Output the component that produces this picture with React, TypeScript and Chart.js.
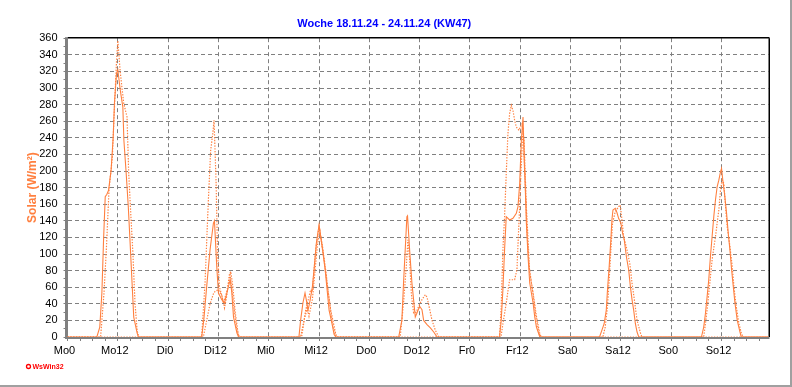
import React, { useEffect, useRef } from "react";
import { Chart, registerables } from "chart.js";

Chart.register(...registerables);

type P = [number, number];

const titleText = "Woche 18.11.24 - 24.11.24 (KW47)";
const yTitle = "Solar (W/m²)";
const dayNames = ["Mo", "Di", "Mi", "Do", "Fr", "Sa", "So"];
const xMaxHours = 167.2;
const yMax = 360;

// solid series: [hour of day, W/m²]
const solidMo: P[] = [[7.0,0],[7.7,12],[8.2,53],[8.6,117],[9.0,169],[9.4,172],[9.8,177],[10.4,201],[10.9,241],[11.2,282],[11.7,318],[12.0,322],[12.6,297],[13.2,277],[13.45,237],[14.0,197],[14.5,157],[14.9,117],[15.4,65],[15.8,24],[16.6,5],[16.9,0]];
const solidDi: P[] = [[8.0,0],[8.5,20],[9.2,61],[10.0,105],[10.8,137],[11.05,140],[11.6,85],[12.0,53],[12.8,45],[13.45,41],[14.0,53],[14.8,69],[15.2,53],[15.6,24],[16.4,5],[16.8,0]];
const solidMi: P[] = [[7.2,0],[7.6,20],[8.15,41],[8.65,53],[8.95,45],[9.35,32],[9.75,41],[10.4,60],[10.8,81],[11.35,113],[12.0,135],[12.4,121],[12.95,101],[13.45,81],[14.0,53],[14.4,32],[15.05,17],[15.6,3],[16.0,0]];
const solidDo: P[] = [[7.0,0],[7.75,20],[8.15,65],[8.55,105],[8.95,145],[9.1,146],[9.6,105],[10.15,65],[10.55,45],[10.95,24],[11.35,29],[12.0,37],[12.55,33],[12.95,20],[13.75,15],[14.55,11],[15.35,6],[16.15,0]];
const solidFr: P[] = [[7.05,0],[7.45,20],[7.85,57],[8.25,105],[8.65,145],[9.45,141],[10.25,143],[11.05,149],[11.45,157],[11.85,185],[12.25,237],[12.65,265],[12.9,217],[13.2,177],[13.45,137],[13.85,97],[14.25,65],[15.05,41],[15.45,24],[15.85,12],[16.65,0]];
const solidSa: P[] = [[6.9,0],[7.45,8],[8.0,16],[8.5,32],[8.8,57],[9.2,85],[9.6,117],[9.85,141],[10.1,153],[10.65,155],[11.05,150],[11.45,143],[12.0,137],[12.4,125],[12.8,117],[13.3,97],[13.85,81],[14.25,61],[14.65,45],[15.05,32],[15.45,16],[15.85,6],[16.25,0]];
const solidSo: P[] = [[7.2,0],[7.75,12],[8.15,28],[8.55,48],[8.95,69],[9.35,97],[9.75,121],[10.15,145],[10.55,165],[10.95,181],[11.35,189],[11.75,199],[12.0,203],[12.3,189],[12.7,173],[13.2,149],[13.6,125],[14.0,105],[14.4,81],[14.8,61],[15.2,41],[15.75,20],[16.4,6],[16.7,0]];

// dotted series A
const dotMo: P[] = [[7.9,0],[8.7,53],[9.3,109],[9.9,177],[10.7,217],[11.1,265],[11.7,333],[12.0,357],[12.6,318],[13.4,282],[14.2,265],[14.6,197],[15.0,157],[15.6,101],[16.1,41],[16.6,8],[17.0,0]];
const dotDi: P[] = [[8.0,0],[8.8,65],[9.6,165],[10.15,225],[10.65,245],[10.95,261],[11.45,185],[11.8,100],[12.25,60],[12.8,50],[13.45,35],[14.0,50],[14.6,75],[14.95,79],[15.45,60],[16.0,30],[16.8,0]];
const dotMi: P[] = [[7.85,0],[8.8,32],[10.0,57],[10.4,55],[11.2,105],[12.0,133],[13.2,93],[14.0,61],[14.8,32],[16.0,3],[16.4,0]];
const dotDo: P[] = [[7.35,0],[8.15,41],[8.8,85],[9.2,117],[9.6,93],[10.0,53],[10.55,29],[11.2,30],[11.75,37],[12.55,45],[13.35,51],[13.75,48],[14.4,33],[14.95,20],[15.75,8],[16.55,0]];
const dotFr: P[] = [[7.05,0],[7.45,37],[7.85,105],[8.25,145],[8.65,197],[9.05,245],[9.45,269],[9.85,279],[10.25,273],[10.65,261],[11.05,253],[11.7,249],[12.0,253],[12.4,257],[12.9,237],[13.45,157],[13.85,117],[14.25,77],[15.05,53],[15.85,25],[16.65,4],[17.0,0]];
const dotSa: P[] = [[7.7,0],[8.25,12],[8.8,37],[9.2,69],[9.6,105],[10.0,137],[10.65,151],[11.45,157],[11.85,159],[12.25,141],[12.65,121],[13.45,105],[14.1,89],[14.65,65],[15.2,45],[15.85,20],[16.65,5],[17.0,0]];
const dotSo: P[] = [[7.75,0],[8.55,32],[9.2,65],[9.75,93],[10.55,121],[11.35,153],[11.75,177],[12.15,189],[12.55,185],[12.95,157],[13.35,133],[14.0,109],[14.55,85],[14.95,61],[15.5,37],[16.15,16],[16.7,5],[17.1,0]];

// dotted series B
const dot2Mo: P[] = [];
const dot2Di: P[] = [[8.4,0],[9.2,20],[10.0,40],[10.8,52],[11.2,55],[12.0,57],[12.8,50],[13.2,41],[14.0,55],[14.8,75],[15.6,40],[16.4,8],[17.0,0]];
const dot2Mi: P[] = [[7.6,0],[8.4,20],[9.2,35],[9.6,25],[10.4,45],[11.6,110],[12.2,128],[12.8,110],[13.6,80],[14.4,45],[15.2,15],[16.0,0]];
const dot2Do: P[] = [];
const dot2Fr: P[] = [[7.4,0],[7.85,16],[8.65,41],[9.45,69],[9.85,69],[10.65,69],[11.2,81],[11.5,117],[11.85,157],[12.15,197],[12.5,237],[12.7,253],[13.1,197],[13.6,127],[14.1,85],[14.9,57],[15.7,25],[16.5,4],[16.9,0]];
const dot2Sa: P[] = [];
const dot2So: P[] = [];

const ORANGE = "#FF8040";
const GRID = "#808080";
const FONT = "'Liberation Sans', Arial, sans-serif";

function build(days: P[][]) {
  const pts: { x: number; y: number }[] = [{ x: 0, y: 0 }];
  days.forEach((day, i) => day.forEach(([h, v]) => pts.push({ x: i * 24 + h, y: v })));
  pts.push({ x: xMaxHours, y: 0 });
  return pts;
}

const framePlugin = {
  id: "frame",
  beforeDatasetsDraw(chart: any) {
    const { ctx, chartArea } = chart;
    const { left, right, top, bottom } = chartArea;
    ctx.save();
    ctx.fillStyle = "#000";
    ctx.fillRect(left, Math.round(top) - 1, right - left + 1, 1.5);
    ctx.fillRect(Math.round(right) - 0.5, top, 1.5, bottom - top);
    ctx.fillStyle = GRID;
    ctx.fillRect(65, top - 1, 3, bottom - top + 3);
    ctx.fillRect(65, Math.round(bottom), right - 65 + 1, 2);
    ctx.restore();
  },
  afterDraw(chart: any) {
    const { ctx } = chart;
    ctx.save();
    ctx.fillStyle = "#A0A0A0";
    ctx.fillRect(0, 385, 792, 2);
    ctx.fillRect(790, 0, 2, 387);
    ctx.strokeStyle = "#FF0000";
    ctx.lineWidth = 1.3;
    ctx.beginPath();
    ctx.arc(28.5, 366.5, 2, 0, Math.PI * 2);
    ctx.stroke();
    ctx.fillStyle = "#FF0000";
    ctx.font = `bold 7px ${FONT}`;
    ctx.textBaseline = "middle";
    ctx.fillText("WsWin32", 32.5, 367);
    ctx.restore();
  },
};

export default function App() {
  const ref = useRef<HTMLCanvasElement>(null);
  useEffect(() => {
    const solid = build([solidMo, solidDi, solidMi, solidDo, solidFr, solidSa, solidSo]);
    const dotA = build([dotMo, dotDi, dotMi, dotDo, dotFr, dotSa, dotSo]);
    const dotB = build([dot2Mo, dot2Di, dot2Mi, dot2Do, dot2Fr, dot2Sa, dot2So]);
    const chart = new Chart(ref.current!, {
      type: "line",
      data: {
        datasets: [
          { data: dotB, borderColor: ORANGE, borderWidth: 1.2, borderDash: [1.4, 1.4], pointRadius: 0, tension: 0 },
          { data: dotA, borderColor: ORANGE, borderWidth: 1.2, borderDash: [1.4, 1.4], pointRadius: 0, tension: 0 },
          { data: solid, borderColor: ORANGE, borderWidth: 1.1, pointRadius: 0, tension: 0 },
        ],
      },
      options: {
        animation: false,
        responsive: false,
        devicePixelRatio: 1,
        parsing: false,
        layout: { padding: { left: 0, right: 23.5, top: 0, bottom: 0 } },
        plugins: {
          legend: { display: false },
          tooltip: { enabled: false },
          title: {
            display: true,
            text: titleText,
            color: "#0000FF",
            font: { family: FONT, size: 11, weight: "bold" },
            padding: { top: 17, bottom: 8 },
          },
        },
        scales: {
          x: {
            type: "linear",
            min: 0,
            max: xMaxHours,
            afterFit: (s: any) => { s.height = 50; },
            ticks: {
              stepSize: 3,
              autoSkip: false,
              maxRotation: 0,
              includeBounds: false,
              color: "#000",
              font: { family: FONT, size: 11 },
              padding: 3,
              labelOffset: -3,
              callback: (v: any) => {
                const n = Math.round(Number(v));
                if (n % 12 !== 0) return "";
                return dayNames[Math.floor(n / 24)] + String(n % 24);
              },
            },
            grid: {
              color: (c: any) => (c.tick && Math.round(c.tick.value) % 12 === 0 && c.tick.value > 0 ? GRID : "rgba(0,0,0,0)"),
              tickColor: GRID,
              tickLength: 4,
              lineWidth: 1,
              tickWidth: 1,
            },
            border: { display: false, dash: [4, 3] },
          },
          y: {
            min: 0,
            max: yMax,
            afterFit: (s: any) => { s.width = 67.5; },
            ticks: {
              stepSize: 10,
              autoSkip: false,
              color: "#000",
              font: { family: FONT, size: 11 },
              padding: 6,
              callback: (v: any) => (Math.round(Number(v)) % 20 === 0 ? String(v) : ""),
            },
            grid: {
              color: (c: any) => (c.tick && c.tick.value % 20 === 0 && c.tick.value > 0 && c.tick.value < yMax ? GRID : "rgba(0,0,0,0)"),
              tickColor: GRID,
              tickLength: 4,
              lineWidth: 1,
            },
            border: { display: false, dash: [4, 3] },
            title: {
              display: true,
              text: yTitle,
              color: ORANGE,
              font: { family: FONT, size: 12, weight: "bold" },
              padding: { top: 25, bottom: 0 },
            },
          },
        },
      },
      plugins: [framePlugin],
    } as any);
    return () => chart.destroy();
  }, []);
  return (
    <div style={{ position: "fixed", left: 0, top: 0, width: 792, height: 387, background: "#fff" }}>
      <canvas ref={ref} width={792} height={387} style={{ display: "block", width: 792, height: 387 }} />
    </div>
  );
}
